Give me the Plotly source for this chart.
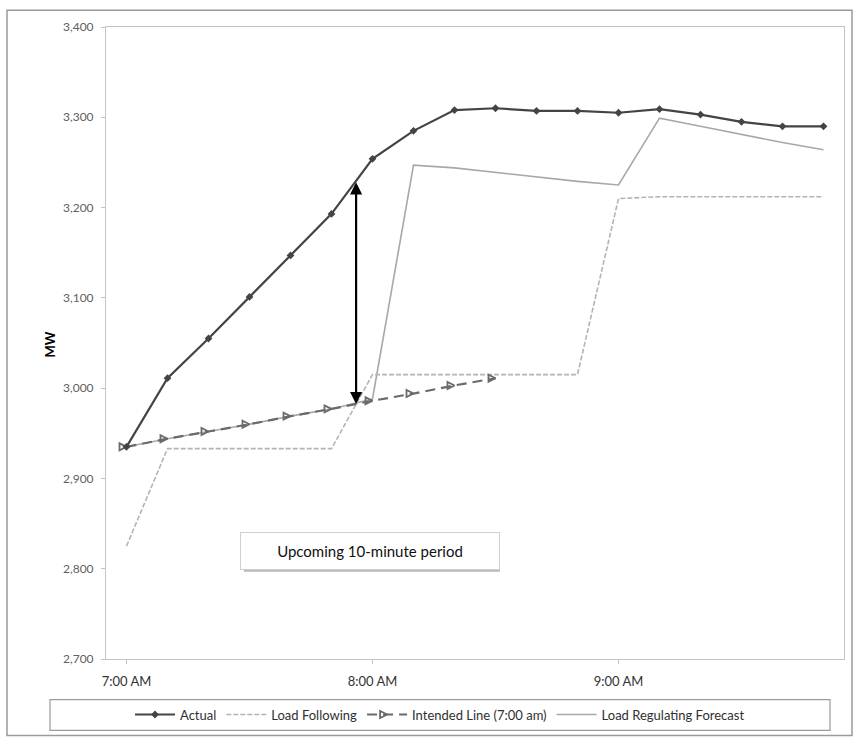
import numpy as np
import plotly.graph_objects as go

# ---- data ----
times = ["07:00", "07:10", "07:20", "07:30", "07:40", "07:50", "08:00", "08:10", "08:20",
         "08:30", "08:40", "08:50", "09:00", "09:10", "09:20", "09:30", "09:40", "09:50"]
actual = [2935, 3011, 3055, 3101, 3147, 3193, 3254, 3285, 3308,
          3310, 3307, 3307, 3305, 3309, 3303, 3295, 3290, 3290]
load_following = [2825, 2933, 2933, 2933, 2933, 2933, 3015, 3015, 3015,
                  3015, 3015, 3015, 3210, 3212, 3212, 3212, 3212, 3212]
intended_times = times[:10]
intended = [2935, 2944, 2952, 2960, 2969, 2977, 2986, 2994, 3003, 3011]
lrf = [2935, 2944, 2952, 2960, 2969, 2977, 2988, 3247, 3244,
       3239, 3234, 3229, 3225, 3299, 3290, 3281, 3272, 3264]
tick_labels = ["7:00 AM", "8:00 AM", "9:00 AM"]
tick_times = ["07:00", "08:00", "09:00"]
arrow_time = "07:56"
note_text = "Upcoming 10-minute period"

DAY = "2000-01-01 "
x = [DAY + t for t in times]
xi = [DAY + t for t in intended_times]

def minutes(t):
    h, m = t.split(":")
    return int(h) * 60 + int(m)

# values of the double-headed arrow ends, taken from the series
am = minutes(arrow_time)
arrow_top = float(np.interp(am, [minutes(t) for t in times], actual))
arrow_bot = float(np.interp(am, [minutes(t) for t in intended_times], intended))

FONT = "Lato, Open Sans, sans-serif"
W, H = 859, 742
L, R, T, B = 106, 15, 27, 78
PW, PH = W - L - R, H - T - B

def px(xp):
    return (xp - L) / PW

def py(yp):
    return (H - B - yp) / PH

fig = go.Figure()

fig.add_trace(go.Scatter(
    x=x, y=lrf, name="Load Regulating Forecast", mode="lines",
    line=dict(color="#a8a8a8", width=1.6), legendrank=4))
fig.add_trace(go.Scatter(
    x=x, y=load_following, name="Load Following", mode="lines",
    line=dict(color="#b4b4b4", width=1.6, dash="5px,2px"), legendrank=2))
fig.add_trace(go.Scatter(
    x=xi, y=intended, name="Intended Line (7:00 am)", mode="lines+markers",
    line=dict(color="#6a6a6a", width=2.2, dash="10px,6px"),
    marker=dict(symbol="arrow-right-open", size=7, color="#6a6a6a",
                line=dict(width=1.8, color="#6a6a6a")),
    legendrank=3))
fig.add_trace(go.Scatter(
    x=x, y=actual, name="Actual", mode="lines+markers",
    line=dict(color="#444444", width=2.2),
    marker=dict(symbol="diamond", size=6, color="#444444"), legendrank=1))

annotations = [
    dict(x=DAY + arrow_time, y=arrow_bot, ax=DAY + arrow_time, ay=arrow_top,
         xref="x", yref="y", axref="x", ayref="y", text="", showarrow=True,
         arrowside="end+start", arrowhead=2, arrowsize=1.1, arrowwidth=2.2,
         arrowcolor="#000000", standoff=0, startstandoff=0),
    dict(x=px(370), y=py(555), xref="paper", yref="paper", text=note_text,
         showarrow=False, font=dict(family=FONT, size=15, color="#111111"),
         bgcolor="white", bordercolor="#d0d0d0", borderwidth=1,
         width=256, height=34, xanchor="center", yanchor="middle"),
    dict(x=px(40), y=py(347), xref="paper", yref="paper", text="<b>MW</b>",
         textangle=-90, showarrow=False,
         font=dict(family=FONT, size=13, color="#000000")),
]

shapes = [
    # outer chart frame
    dict(type="rect", xref="paper", yref="paper", x0=px(7), x1=px(852),
         y0=py(741), y1=py(10), line=dict(color="#9a9a9a", width=1.5),
         layer="below"),
    # shadow of the text box
    dict(type="rect", xref="paper", yref="paper", x0=px(244), x1=px(500),
         y0=py(576), y1=py(540), line=dict(width=0), fillcolor="#b8b8b8",
         layer="below"),
    # legend box
    dict(type="rect", xref="paper", yref="paper", x0=px(50), x1=px(830),
         y0=py(736), y1=py(705), line=dict(color="#9a9a9a", width=1.2),
         layer="below"),
]

fig.update_layout(
    width=W, height=H,
    margin=dict(l=L, r=R, t=T, b=B),
    paper_bgcolor="white", plot_bgcolor="white",
    font=dict(family=FONT, size=12, color="#404040"),
    showlegend=True,
    legend=dict(orientation="h", x=px(440), xanchor="center",
                y=py(720), yanchor="middle", bgcolor="rgba(0,0,0,0)",
                font=dict(family=FONT, size=13, color="#303030"),
                itemwidth=40, traceorder="normal"),
    annotations=annotations,
    shapes=shapes,
    xaxis=dict(type="date", range=[DAY + "06:55", DAY + "09:55"],
               tickvals=[DAY + t for t in tick_times], ticktext=tick_labels,
               showgrid=False, zeroline=False, showline=True, linecolor="#c4c4c4",
               linewidth=1, mirror=True, ticks="outside", ticklen=4,
               tickcolor="#c4c4c4", ticklabelstandoff=6,
               tickfont=dict(family=FONT, size=13, color="#333333")),
    yaxis=dict(range=[2700, 3400], tickvals=[2700, 2800, 2900, 3000, 3100, 3200, 3300, 3400],
               ticktext=["2,700", "2,800", "2,900", "3,000", "3,100", "3,200", "3,300", "3,400"],
               showgrid=False, zeroline=False, showline=True, linecolor="#c4c4c4",
               linewidth=1, mirror=True, ticks="outside", ticklen=4,
               tickcolor="#c4c4c4", ticklabelstandoff=5,
               tickfont=dict(family=FONT, size=12, color="#606060")),
)

fig.write_html("out.html")
